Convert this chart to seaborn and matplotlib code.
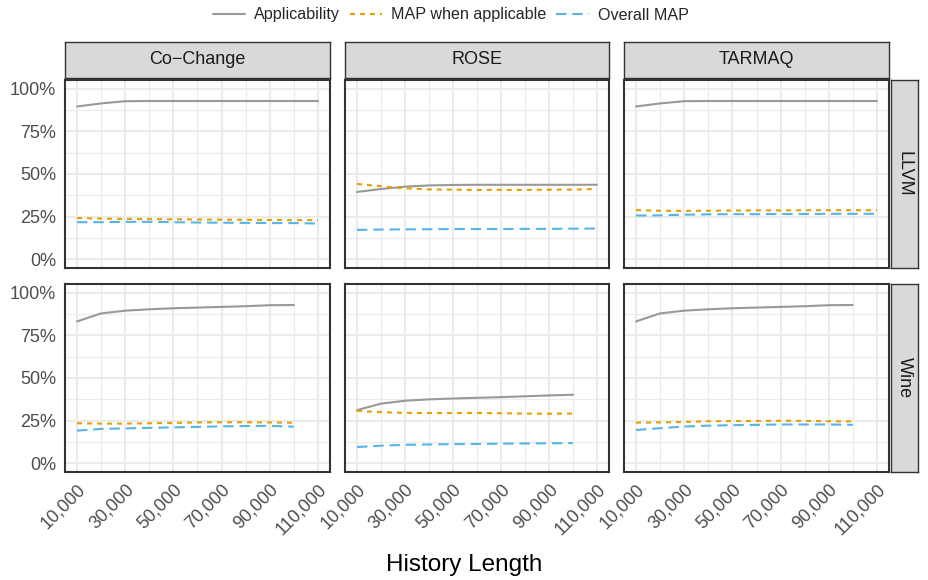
import matplotlib
matplotlib.use("Agg")
import matplotlib.pyplot as plt
from matplotlib.ticker import FixedLocator, FuncFormatter
import seaborn as sns
import pandas as pd

# ---- data -------------------------------------------------------------
history_llvm = [10000, 20000, 30000, 40000, 50000, 60000, 70000, 80000, 90000, 100000, 110000]
history_wine = [10000, 20000, 30000, 40000, 50000, 60000, 70000, 80000, 90000, 100000]

tools = ["Co\u2212Change", "ROSE", "TARMAQ"]
systems = ["LLVM", "Wine"]
metrics = ["Applicability", "MAP when applicable", "Overall MAP"]

# LLVM (percent)
cc_llvm_app = [89.5, 91.3, 92.6, 92.7, 92.7, 92.7, 92.7, 92.7, 92.7, 92.7, 92.7]
cc_llvm_mapwa = [24.2, 23.9, 23.7, 23.6, 23.5, 23.4, 23.3, 23.2, 23.1, 23.0, 23.0]
cc_llvm_overall = [21.8, 21.8, 22.0, 22.0, 21.8, 21.6, 21.5, 21.4, 21.3, 21.3, 21.0]

rose_llvm_app = [39.5, 41.2, 42.6, 43.3, 43.6, 43.7, 43.7, 43.7, 43.7, 43.7, 43.7]
rose_llvm_mapwa = [44.2, 42.8, 41.6, 41.0, 40.8, 40.7, 40.7, 40.7, 40.8, 40.9, 41.2]
rose_llvm_overall = [17.3, 17.5, 17.6, 17.7, 17.8, 17.8, 17.8, 17.9, 17.9, 18.0, 18.1]

tq_llvm_app = [89.5, 91.3, 92.6, 92.7, 92.7, 92.7, 92.7, 92.7, 92.7, 92.7, 92.7]
tq_llvm_mapwa = [28.9, 28.5, 28.4, 28.5, 28.6, 28.7, 28.7, 28.8, 28.8, 28.8, 28.8]
tq_llvm_overall = [25.7, 25.8, 26.2, 26.4, 26.5, 26.5, 26.6, 26.6, 26.7, 26.7, 26.7]

# Wine (percent)
cc_wine_app = [83.1, 87.8, 89.4, 90.2, 90.8, 91.2, 91.6, 92.0, 92.6, 92.7]
cc_wine_mapwa = [23.5, 23.3, 23.3, 23.5, 23.7, 24.0, 24.1, 24.1, 24.0, 23.8]
cc_wine_overall = [19.2, 20.2, 20.5, 20.8, 21.1, 21.4, 21.7, 21.9, 22.0, 21.5]

rose_wine_app = [31.2, 35.0, 36.7, 37.5, 38.0, 38.4, 38.8, 39.3, 39.8, 40.2]
rose_wine_mapwa = [30.8, 30.0, 29.6, 29.5, 29.5, 29.5, 29.4, 29.2, 29.1, 29.2]
rose_wine_overall = [9.6, 10.4, 10.9, 11.1, 11.3, 11.4, 11.6, 11.7, 11.8, 11.9]

tq_wine_app = [83.1, 87.8, 89.4, 90.2, 90.8, 91.2, 91.6, 92.0, 92.6, 92.7]
tq_wine_mapwa = [23.9, 24.0, 24.3, 24.7, 24.8, 24.9, 25.0, 24.9, 24.7, 24.6]
tq_wine_overall = [19.6, 20.6, 21.6, 22.1, 22.4, 22.6, 22.8, 22.8, 22.8, 22.6]

x_ticks = [10000, 30000, 50000, 70000, 90000, 110000]
y_ticks = [0, 25, 50, 75, 100]

series = {
    ("LLVM", tools[0]): (history_llvm, [cc_llvm_app, cc_llvm_mapwa, cc_llvm_overall]),
    ("LLVM", tools[1]): (history_llvm, [rose_llvm_app, rose_llvm_mapwa, rose_llvm_overall]),
    ("LLVM", tools[2]): (history_llvm, [tq_llvm_app, tq_llvm_mapwa, tq_llvm_overall]),
    ("Wine", tools[0]): (history_wine, [cc_wine_app, cc_wine_mapwa, cc_wine_overall]),
    ("Wine", tools[1]): (history_wine, [rose_wine_app, rose_wine_mapwa, rose_wine_overall]),
    ("Wine", tools[2]): (history_wine, [tq_wine_app, tq_wine_mapwa, tq_wine_overall]),
}

rows = []
for (system, tool), (hist, vals) in series.items():
    for metric, v in zip(metrics, vals):
        for h, y in zip(hist, v):
            rows.append({"system": system, "tool": tool, "metric": metric,
                         "history": h, "value": y})
df = pd.DataFrame(rows)

# ---- style ------------------------------------------------------------
sns.set_theme(style="white")
plt.rcParams["font.family"] = ["Liberation Sans", "DejaVu Sans"]

palette = {"Applicability": "#999999",
           "MAP when applicable": "#E69F00",
           "Overall MAP": "#56B4E9"}
dashes = {"Applicability": "",
          "MAP when applicable": (2.4, 2.4),
          "Overall MAP": (5.0, 2.8)}

FS = 13
W, H = 929, 580
fig = plt.figure(figsize=(W / 100, H / 100), dpi=100)

col_x = [(65, 330), (345, 609), (624, 889)]
row_y = [(80, 268), (284, 472)]
strip_top = (42, 78)
strip_right = (891, 918)

border = "#333333"
tick_col = "#4D4D4D"


def fig_rect(x0, x1, y0, y1):
    return [x0 / W, 1 - y1 / H, (x1 - x0) / W, (y1 - y0) / H]


def strip_axes(rect, label, rotation):
    sax = fig.add_axes(rect)
    sax.set_facecolor("#D9D9D9")
    sax.set_xticks([])
    sax.set_yticks([])
    for s in sax.spines.values():
        s.set_color(border)
        s.set_linewidth(1.0)
    sax.text(0.5, 0.5, label, ha="center", va="center", fontsize=FS,
             color="#1A1A1A", rotation=rotation, transform=sax.transAxes)
    return sax


axes = {}
for ri, system in enumerate(systems):
    for ci, tool in enumerate(tools):
        ax = fig.add_axes(fig_rect(*col_x[ci], *row_y[ri]))
        axes[(ri, ci)] = ax
        sub = df[(df.system == system) & (df.tool == tool)]
        sns.lineplot(data=sub, x="history", y="value", hue="metric", style="metric",
                     hue_order=metrics, style_order=metrics, palette=palette,
                     dashes=dashes, linewidth=1.5, ax=ax, legend=(ri == 0 and ci == 0),
                     zorder=3)
        ax.set_xlim(5000, 115000)
        ax.set_ylim(-5, 105)
        ax.xaxis.set_major_locator(FixedLocator(x_ticks))
        ax.xaxis.set_minor_locator(FixedLocator([20000, 40000, 60000, 80000, 100000]))
        ax.yaxis.set_major_locator(FixedLocator(y_ticks))
        ax.yaxis.set_minor_locator(FixedLocator([12.5, 37.5, 62.5, 87.5]))
        ax.grid(which="major", color="#EBEBEB", linewidth=1.5, zorder=0)
        ax.grid(which="minor", color="#EBEBEB", linewidth=0.8, zorder=0)
        ax.set_axisbelow(True)
        for s in ax.spines.values():
            s.set_color(border)
            s.set_linewidth(1.5)
        ax.set_xlabel("")
        ax.set_ylabel("")
        ax.tick_params(which="minor", length=0)
        ax.tick_params(which="major", color=border, width=1.4, length=4.5,
                       labelcolor=tick_col, labelsize=FS, pad=2)
        if ci == 0:
            ax.yaxis.set_major_formatter(FuncFormatter(lambda v, p: f"{int(v)}%"))
        else:
            ax.tick_params(axis="y", left=False, labelleft=False)
        if ri == 1:
            ax.xaxis.set_major_formatter(FuncFormatter(lambda v, p: f"{int(v):,}"))
            for lab in ax.get_xticklabels():
                lab.set_rotation(45)
                lab.set_ha("right")
                lab.set_rotation_mode("anchor")
        else:
            ax.tick_params(axis="x", bottom=False, labelbottom=False)

        if ri == 0:
            strip_axes(fig_rect(*col_x[ci], *strip_top), tool, 0)
        if ci == 2:
            strip_axes(fig_rect(*strip_right, *row_y[ri]), system, -90)

# shared legend at the top
ax0 = axes[(0, 0)]
handles, labels = ax0.get_legend_handles_labels()
ax0.get_legend().remove()
fig.legend(handles, labels, loc="center", bbox_to_anchor=(0.485, 1 - 15 / H), ncol=3,
           frameon=False, fontsize=11.6, handlelength=2.0, columnspacing=0.62,
           handletextpad=0.56)

fig.text(0.5, 1 - 565 / H, "History Length", ha="center", va="center", fontsize=17.5,
         color="#000000")

fig.savefig("out.png", dpi=100)
